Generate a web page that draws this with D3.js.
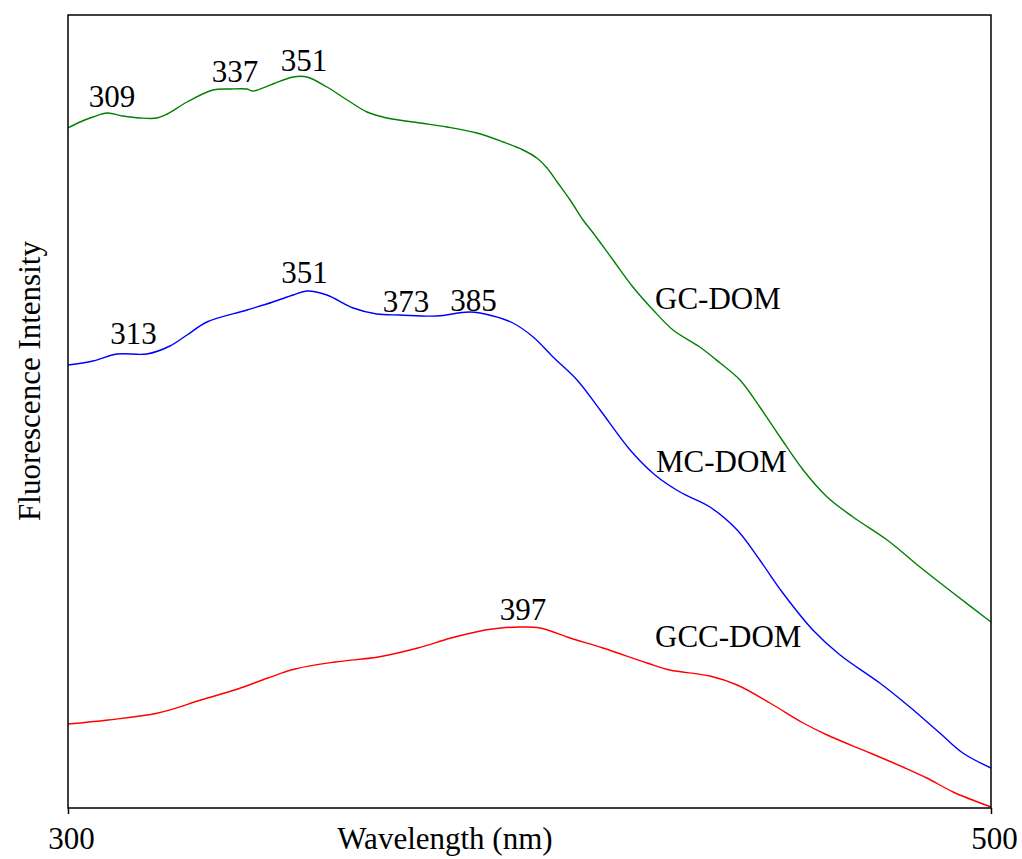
<!DOCTYPE html>
<html>
<head>
<meta charset="utf-8">
<script src="https://cdn.jsdelivr.net/npm/d3@7"></script>
<style>
  html, body { margin: 0; padding: 0; background: #fff; }
  svg text { font-family: "Times New Roman", "Liberation Serif", serif; fill: #000; }
</style>
</head>
<body>
<svg id="chart" width="1022" height="859"></svg>
<script>
// ---- Data (arbitrary intensity units) ----
const gcWavelength = [300, 302.6, 305.4, 308.5, 311.9, 315.6, 319.3, 321.5, 325.8, 331.4, 335.1, 338.8, 340.1, 344.4, 348.8, 351.8, 356.1, 360.5, 364.8, 369.1, 376.3, 382.1, 388.6, 394.3, 398.6, 401.6, 403.8, 406.0, 408.8, 411.6, 413.8, 418.1, 422.4, 426.8, 431.1, 436.9, 441.3, 445.6, 449.9, 454.3, 459.3, 464.5, 470.1, 477.5, 484.6, 491.8, 500];
const gcIntensity  = [680, 686, 691, 695, 692, 690, 690, 694, 706, 718, 719, 719, 717, 724, 731, 731, 721, 708, 696, 690, 685, 681, 675, 666, 658, 650, 640, 626, 608, 588, 575, 548, 521, 498, 478, 461, 445, 428, 401, 371, 338, 311, 291, 268, 241, 215, 186];

const mcWavelength = [300, 305.4, 310.6, 317.1, 322.1, 325.8, 330.1, 338.8, 344.4, 348.8, 351.8, 356.1, 361.8, 366.9, 371.9, 379.9, 387.1, 392.1, 396.4, 400.8, 405.1, 410.3, 415.3, 421.8, 427.2, 432.6, 439.1, 445.0, 449.9, 454.9, 461.4, 467.3, 475.9, 482.4, 488.9, 493.9, 500];
const mcIntensity  = [443, 447, 454, 454, 462, 473, 486, 498, 506, 513, 517, 513, 500, 494, 493, 492, 496, 492, 485, 471, 451, 428, 398, 358, 333, 316, 301, 278, 248, 215, 178, 153, 125, 101, 75, 55, 40];

const gccWavelength = [300, 308.7, 319.5, 328.8, 336.8, 343.3, 349.2, 357.9, 367.2, 375.8, 383.0, 390.4, 393.8, 397.9, 402.3, 408.8, 415.9, 425.5, 430.4, 439.1, 445.0, 452.1, 459.3, 464.5, 473.8, 480.9, 486.1, 491.8, 500];
const gccIntensity  = [84, 88, 95, 108, 119, 130, 139, 146, 151, 160, 170, 178, 180, 181, 180, 170, 160, 145, 138, 132, 123, 105, 85, 73, 55, 41, 30, 16, 1];

const seriesNames = ["GC-DOM", "MC-DOM", "GCC-DOM"];
const xTickValues = [300, 500];

// peak annotation labels
const gcPeaks  = ["309", "337", "351"];
const mcPeaks  = ["313", "351", "373", "385"];
const gccPeaks = ["397"];

// ---- Layout ----
const svg = d3.select("#chart");
const plotLeft = 68, plotRight = 991, plotTop = 15, plotBottom = 808;

const x = d3.scaleLinear().domain([300, 500]).range([plotLeft, plotRight]);
const y = d3.scaleLinear().domain([0, 793]).range([plotBottom, plotTop]);

const series = [
  { name: seriesNames[0], xs: gcWavelength,  ys: gcIntensity,  color: "#008000" },
  { name: seriesNames[1], xs: mcWavelength,  ys: mcIntensity,  color: "#0000ff" },
  { name: seriesNames[2], xs: gccWavelength, ys: gccIntensity, color: "#ff0000" }
];

const line = d3.line()
  .x(d => x(d[0]))
  .y(d => y(d[1]))
  .curve(d3.curveCatmullRom.alpha(0.5));

series.forEach(s => {
  const pts = s.xs.map((v, i) => [v, s.ys[i]]);
  svg.append("path")
    .attr("d", line(pts))
    .attr("fill", "none")
    .attr("stroke", s.color)
    .attr("stroke-width", 1.4);
});

// frame
svg.append("rect")
  .attr("x", plotLeft).attr("y", plotTop)
  .attr("width", plotRight - plotLeft).attr("height", plotBottom - plotTop)
  .attr("fill", "none").attr("stroke", "#000").attr("stroke-width", 1.5);

// x axis
const xAxis = d3.axisBottom(x).tickValues(xTickValues).tickSize(6).tickSizeOuter(0).tickFormat(d3.format("d"));
const gx = svg.append("g").attr("transform", `translate(0,${plotBottom})`).call(xAxis);
gx.select(".domain").remove();
gx.selectAll(".tick line").attr("stroke", "#000").attr("stroke-width", 1.5);
gx.selectAll(".tick text")
  .attr("y", 0).attr("dy", 0)
  .attr("transform", "translate(3,41)")
  .style("font-family", "'Times New Roman', 'Liberation Serif', serif")
  .style("font-size", "31px").attr("fill", "#000");

// axis titles
svg.append("text")
  .attr("x", 445).attr("y", 849)
  .attr("text-anchor", "middle")
  .style("font-size", "31px")
  .text("Wavelength (nm)");

svg.append("text")
  .attr("transform", "translate(40,381) rotate(-90)")
  .attr("text-anchor", "middle")
  .style("font-size", "31px")
  .text("Fluorescence Intensity");

// peak labels
const peakLabelPos = [
  { t: gcPeaks[0],  lx: 112,   ly: 107 },
  { t: gcPeaks[1],  lx: 235,   ly: 82 },
  { t: gcPeaks[2],  lx: 304,   ly: 71 },
  { t: mcPeaks[0],  lx: 133.5, ly: 344 },
  { t: mcPeaks[1],  lx: 304.5, ly: 283 },
  { t: mcPeaks[2],  lx: 406,   ly: 311.5 },
  { t: mcPeaks[3],  lx: 473.5, ly: 311 },
  { t: gccPeaks[0], lx: 523,   ly: 620 }
];
peakLabelPos.forEach(p => {
  svg.append("text")
    .attr("x", p.lx).attr("y", p.ly)
    .attr("text-anchor", "middle")
    .style("font-size", "31px")
    .text(p.t);
});

// series name labels
const nameLabelPos = [
  { t: seriesNames[0], lx: 655, ly: 309 },
  { t: seriesNames[1], lx: 656, ly: 472 },
  { t: seriesNames[2], lx: 655, ly: 647 }
];
nameLabelPos.forEach(p => {
  svg.append("text")
    .attr("x", p.lx).attr("y", p.ly)
    .attr("text-anchor", "start")
    .style("font-size", "31px")
    .text(p.t);
});
</script>
</body>
</html>
